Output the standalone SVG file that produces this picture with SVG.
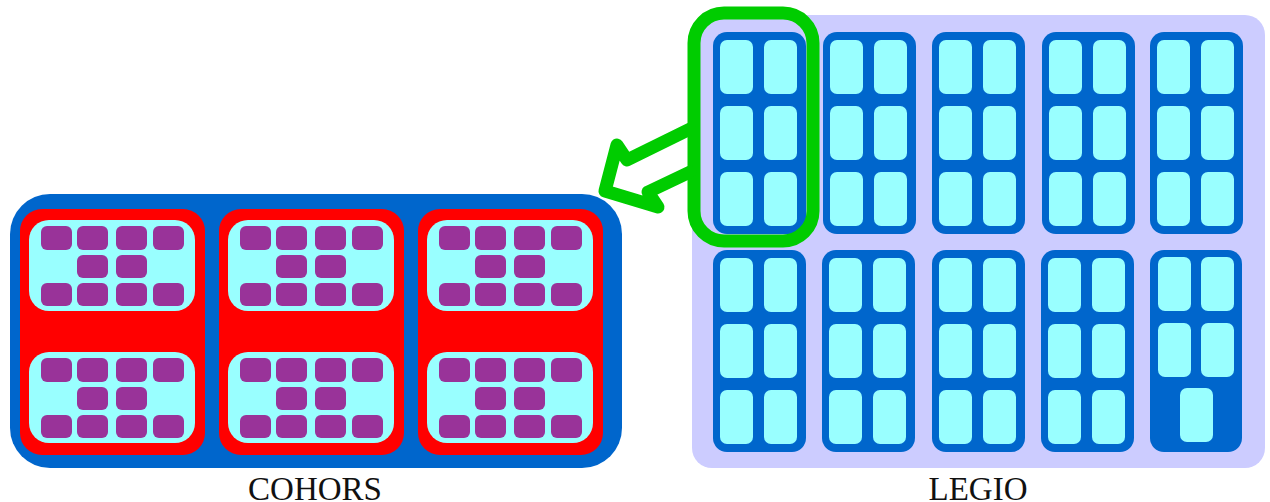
<svg xmlns="http://www.w3.org/2000/svg" xmlns:xlink="http://www.w3.org/1999/xlink" width="1270" height="502" viewBox="0 0 1270 502">
<style>
.blue{fill:#0066CC}
.red{fill:#FF0000}
.cyan{fill:#99FFFF}
.pur{fill:#993399}
.lav{fill:#CCCCFF}
.lbl{font-family:"Liberation Serif","Times New Roman",serif;font-size:33px;fill:#111;text-anchor:middle}
</style>
<defs>
<g id="cent">
<rect class="cyan" x="0" y="0" width="166" height="91" rx="20"/>
<rect class="pur" x="12" y="6" width="31" height="24" rx="6"/>
<rect class="pur" x="48" y="6" width="31" height="24" rx="6"/>
<rect class="pur" x="87" y="6" width="31" height="24" rx="6"/>
<rect class="pur" x="124" y="6" width="31" height="24" rx="6"/>
<rect class="pur" x="48" y="35" width="31" height="23" rx="6"/>
<rect class="pur" x="87" y="35" width="31" height="23" rx="6"/>
<rect class="pur" x="12" y="63" width="31" height="23" rx="6"/>
<rect class="pur" x="48" y="63" width="31" height="23" rx="6"/>
<rect class="pur" x="87" y="63" width="31" height="23" rx="6"/>
<rect class="pur" x="124" y="63" width="31" height="23" rx="6"/>
</g>
<g id="manip">
<rect class="red" x="0" y="0" width="185" height="246" rx="22"/>
<use xlink:href="#cent" x="9" y="11"/>
<use xlink:href="#cent" x="9" y="143"/>
</g>
<rect id="cell" class="cyan" width="33" height="54" rx="7"/>
<g id="coh">
<rect class="blue" x="0" y="0" width="93" height="202" rx="14"/>
<use xlink:href="#cell" x="7" y="8"/>
<use xlink:href="#cell" x="51" y="8"/>
<use xlink:href="#cell" x="7" y="74"/>
<use xlink:href="#cell" x="51" y="74"/>
<use xlink:href="#cell" x="7" y="140"/>
<use xlink:href="#cell" x="51" y="140"/>
</g>
</defs>

<g id="cohors">
<rect class="blue" x="10" y="194" width="612" height="274" rx="40"/>
<use xlink:href="#manip" x="20" y="209"/>
<use xlink:href="#manip" x="219" y="209"/>
<use xlink:href="#manip" x="418" y="209"/>
</g>

<g id="legio">
<rect class="lav" x="692" y="15" width="573" height="453" rx="20"/>
<use xlink:href="#coh" x="713" y="32"/>
<use xlink:href="#coh" x="823" y="32"/>
<use xlink:href="#coh" x="932" y="32"/>
<use xlink:href="#coh" x="1042" y="32"/>
<use xlink:href="#coh" x="1150" y="32"/>
<use xlink:href="#coh" x="713" y="250"/>
<use xlink:href="#coh" x="822" y="250"/>
<use xlink:href="#coh" x="932" y="250"/>
<use xlink:href="#coh" x="1041" y="250"/>
<g id="coh10">
<rect class="blue" x="1150" y="250" width="92" height="202" rx="14"/>
<use xlink:href="#cell" x="1158" y="257"/>
<use xlink:href="#cell" x="1201" y="257"/>
<use xlink:href="#cell" x="1158" y="323"/>
<use xlink:href="#cell" x="1201" y="323"/>
<use xlink:href="#cell" x="1180" y="388"/>
</g>
</g>

<g id="connectors" fill="none" stroke="#00CC00" stroke-width="13" stroke-linejoin="round" stroke-linecap="round">
<rect x="694" y="13" width="119" height="228" rx="30"/>
<polyline points="690,129 627,160 617,145 605,191 658,207 648,192 690,172"/>
</g>

<text class="lbl" x="315" y="500">COHORS</text>
<text class="lbl" x="978" y="500">LEGIO</text>
</svg>
